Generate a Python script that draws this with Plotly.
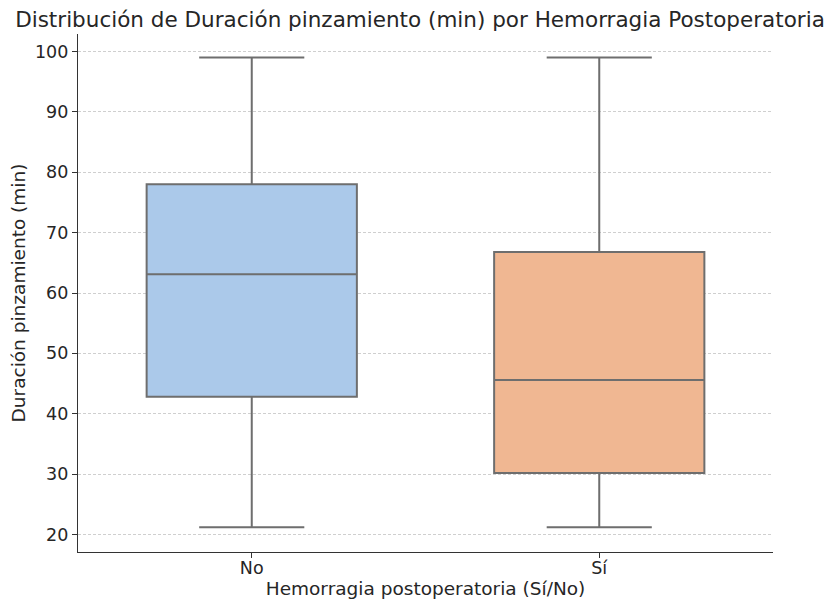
import plotly.graph_objects as go

categories = ["No", "Sí"]
lower_whisker = [21.2, 21.2]
q1_values = [42.8, 30.2]
median_values = [63.1, 45.6]
q3_values = [78.0, 66.8]
upper_whisker = [99.0, 99.0]
fill_colors = ["#abc9ea", "#f0b792"]
y_ticks = [20, 30, 40, 50, 60, 70, 80, 90, 100]

line_gray = "#6e6e6e"
font_family = "DejaVu Sans"

fig = go.Figure()
for i, cat in enumerate(categories):
    fig.add_trace(go.Box(
        x=[i],
        q1=[q1_values[i]],
        median=[median_values[i]],
        q3=[q3_values[i]],
        lowerfence=[lower_whisker[i]],
        upperfence=[upper_whisker[i]],
        fillcolor=fill_colors[i],
        line=dict(color=line_gray, width=2),
        width=0.605,
        whiskerwidth=0.5,
        boxpoints=False,
        hoverinfo="y",
        showlegend=False,
    ))

# the page body has an 8px default margin, so the figure is laid out 8px up/left
fig.update_layout(
    width=840, height=606,
    margin=dict(l=70, r=75, t=25.5, b=61.5, autoexpand=False),
    paper_bgcolor="white",
    plot_bgcolor="white",
    font=dict(family=font_family, color="#262626", size=17),
    title=dict(
        text="Distribución de Duración pinzamiento (min) por Hemorragia Postoperatoria",
        x=412 / 840, xref="container", xanchor="center",
        y=1 - 11 / 606, yref="container", yanchor="middle",
        font=dict(size=21.5, family=font_family, color="#262626"),
    ),
    xaxis=dict(
        range=[-0.5, 1.5],
        tickmode="array", tickvals=[0, 1], ticktext=categories,
        showgrid=False, zeroline=False, automargin=False,
        showline=True, linecolor="#333333", linewidth=1.2,
        ticks="outside", ticklen=5, tickcolor="#333333",
        ticklabelstandoff=-5,
        title=dict(text="Hemorragia postoperatoria (Sí/No)", standoff=4,
                   font=dict(size=18.5, family=font_family)),
        tickfont=dict(size=17.5),
    ),
    yaxis=dict(
        range=[17.1, 102.9],
        tickmode="array", tickvals=y_ticks,
        showgrid=True, gridcolor="#cfcfcf", griddash="3px,2px", gridwidth=0.8,
        zeroline=False, automargin=False,
        showline=True, linecolor="#333333", linewidth=1.2,
        ticks="outside", ticklen=5, tickcolor="#333333",
        title=dict(text="Duración pinzamiento (min)", standoff=6,
                   font=dict(size=18.5, family=font_family)),
        tickfont=dict(size=17.5),
    ),
)

fig.write_html("out.html")
